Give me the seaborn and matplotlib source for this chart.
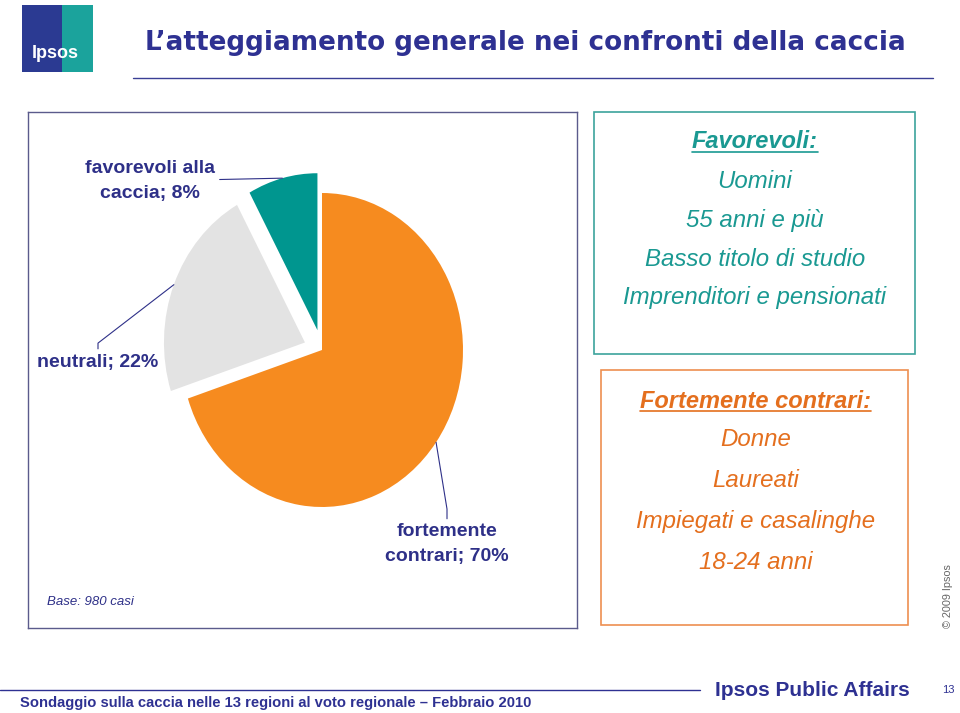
import numpy as np
import matplotlib
matplotlib.use("Agg")
import matplotlib.pyplot as plt
import seaborn as sns
from matplotlib.patches import Rectangle
from matplotlib.lines import Line2D

# Data
categories = ["fortemente contrari", "neutrali", "favorevoli alla caccia"]
shares = [70, 22, 8]
pie_labels = ["fortemente\ncontrari; 70%", "neutrali; 22%", "favorevoli alla\ncaccia; 8%"]
favorevoli_title = "Favorevoli:"
favorevoli_profile = ["Uomini", "55 anni e più", "Basso titolo di studio", "Imprenditori e pensionati"]
contrari_title = "Fortemente contrari:"
contrari_profile = ["Donne", "Laureati", "Impiegati e casalinghe", "18-24 anni"]

# Style
sns.set_theme(style="white")
plt.rcParams["font.family"] = ["Liberation Sans", "DejaVu Sans"]

NAVY = "#2E3088"
TEAL_TXT = "#1A9992"
ORANGE_TXT = "#E46F1E"
pie_colors = ["#F68B1F", "#E3E3E3", "#00968F"]
explode = [0, 0.13, 0.13]

W, H = 960, 713
fig = plt.figure(figsize=(9.6, 7.13), dpi=100)
fig.patch.set_facecolor("white")


def fx(x):
    return x / W


def fy(y):
    return 1 - y / H


# Logo
lax = fig.add_axes([fx(22), fy(72), 71 / W, 67 / H])
lax.set_xlim(0, 1)
lax.set_ylim(0, 1)
lax.axis("off")
lax.add_patch(Rectangle((0, 0), 0.56, 1, color="#2B3A92", lw=0))
lax.add_patch(Rectangle((0.56, 0), 0.44, 1, color="#1BA39C", lw=0))
lax.text(0.47, 0.27, "Ipsos", color="white", fontsize=13, fontweight="bold",
         ha="center", va="center")

# Title and top rule
fig.text(fx(145), fy(43), "L\u2019atteggiamento generale nei confronti della caccia",
         color="#2E3192", fontsize=18.9, fontweight="bold", ha="left", va="center",
         family=["DejaVu Sans"])
fig.add_artist(Line2D([fx(133), fx(933)], [fy(78), fy(78)], color="#3A3F95", lw=1))

# Pie chart (left box is the axes frame)
cx, cy, rx, ry = 322, 350, 141, 157
ax = fig.add_axes([fx(28), fy(628), 549 / W, 516 / H])
wedges, _ = ax.pie(shares, colors=pie_colors, explode=explode, startangle=90,
                   counterclock=False, wedgeprops=dict(linewidth=0))
ax.set_aspect("auto")
ax.set_xlim((28 - cx) / rx, (577 - cx) / rx)
ax.set_ylim((cy - 628) / ry, (cy - 112) / ry)
ax.set_frame_on(True)
for s in ax.spines.values():
    s.set_visible(True)
    s.set_color("#5B5B8C")
    s.set_linewidth(1)

label_px = [(447, 544), (98, 362), (150, 181)]
conn = [
    "angle,angleA=90,angleB=-80.7,rad=0",
    "angle,angleA=90,angleB=37.6,rad=0",
    "arc3,rad=0",
]
for w, lab, (px, py), cs in zip(wedges, pie_labels, label_px, conn):
    th = np.deg2rad((w.theta1 + w.theta2) / 2)
    x0, y0 = w.center
    anchor = (x0 + w.r * np.cos(th), y0 + w.r * np.sin(th))
    ax.annotate(lab, xy=anchor, xytext=((px - cx) / rx, (cy - py) / ry),
                ha="center", va="center", multialignment="center",
                fontsize=14, fontweight="bold", color=NAVY, linespacing=1.55,
                annotation_clip=False,
                arrowprops=dict(arrowstyle="-", color=NAVY, lw=0.8,
                                shrinkA=1, shrinkB=0, connectionstyle=cs))

ax.text((47 - 28) / 549, (628 - 602) / 516, "Base: 980 casi", transform=ax.transAxes,
        fontsize=9.5, style="italic", color=NAVY, ha="left", va="center")

# Right boxes
fig.add_artist(Rectangle((fx(594), fy(354)), 321 / W, 242 / H, fill=False,
                         edgecolor="#3CA39C", lw=1.2, transform=fig.transFigure))
fig.add_artist(Rectangle((fx(601), fy(625)), 307 / W, 255 / H, fill=False,
                         edgecolor="#EE8F50", lw=1.2, transform=fig.transFigure))

heads = []
t = fig.text(fx(755), fy(142), favorevoli_title, color=TEAL_TXT, fontsize=17,
             style="italic", fontweight="bold", ha="center", va="center")
heads.append((t, TEAL_TXT))
for i, line in enumerate(favorevoli_profile):
    fig.text(fx(755), fy(182 + i * 38.5), line, color=TEAL_TXT, fontsize=17.3,
             style="italic", ha="center", va="center")

t = fig.text(fx(755), fy(401), contrari_title, color=ORANGE_TXT, fontsize=17,
             style="italic", fontweight="bold", ha="center", va="center")
heads.append((t, ORANGE_TXT))
for i, line in enumerate(contrari_profile):
    fig.text(fx(756), fy(440 + i * 40.7), line, color=ORANGE_TXT, fontsize=17.3,
             style="italic", ha="center", va="center")

# Copyright
fig.text(fx(948), fy(596), "\u00a9 2009 Ipsos", rotation=90, color="#666666",
         fontsize=7.8, ha="center", va="center")

# Footer
fig.add_artist(Line2D([0, fx(700)], [fy(690), fy(690)], color="#2E3192", lw=1))
fig.text(fx(20), fy(703), "Sondaggio sulla caccia nelle 13 regioni al voto regionale \u2013 Febbraio 2010",
         color="#2E3192", fontsize=10.6, fontweight="bold", ha="left", va="center")
fig.text(fx(715), fy(690), "Ipsos Public Affairs", color="#2E3192", fontsize=15,
         fontweight="bold", ha="left", va="center")
fig.text(fx(948), fy(690), "13", color="#2E3192", fontsize=8, ha="center", va="center")

# Underline the box headings
fig.canvas.draw()
renderer = fig.canvas.get_renderer()
for t, col in heads:
    bb = t.get_window_extent(renderer).transformed(fig.transFigure.inverted())
    yl = bb.y0 + 0.002
    fig.add_artist(Line2D([bb.x0, bb.x1], [yl, yl], color=col, lw=1.2))

fig.savefig("out.png", dpi=100)
